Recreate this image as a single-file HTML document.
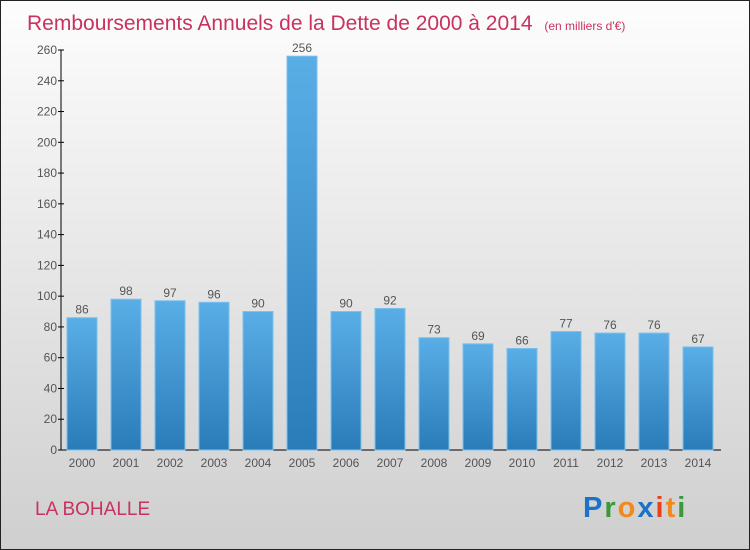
<!DOCTYPE html>
<html><head><meta charset="utf-8"><style>
body{margin:0;}
#wrap{width:748px;height:548px;border:1px solid #222;background:linear-gradient(#fdfdfd,#cfcfcf);position:relative;overflow:hidden;font-family:"Liberation Sans",sans-serif;}
</style></head><body>
<div id="wrap">
<svg id="chart" width="748" height="548" xmlns="http://www.w3.org/2000/svg">
<defs><linearGradient id="bg" x1="0" y1="0" x2="0" y2="1"><stop offset="0" stop-color="#5aaee6"/><stop offset="1" stop-color="#2a7cb9"/></linearGradient></defs>
<text x="26" y="29" font-size="21" fill="#c8325f">Remboursements Annuels de la Dette de 2000 à 2014 <tspan font-size="12" dx="6">(en milliers d'€)</tspan></text>
<text x="34" y="514" font-size="19" fill="#c8325f">LA BOHALLE</text>
<g font-size="29" font-weight="bold" font-family="Liberation Sans, sans-serif">
<text x="582" y="516" letter-spacing="2"><tspan fill="#1a73c8">P</tspan><tspan fill="#3a9a3a">r</tspan><tspan fill="#f08a1c">o</tspan><tspan fill="#1a73c8">x</tspan><tspan fill="#e8401c">i</tspan><tspan fill="#f08a1c">t</tspan><tspan fill="#3a9a3a">i</tspan></text></g>
<g id="axes"></g><g id="bars"></g>
</svg></div>
<script>
const categories=["2000","2001","2002","2003","2004","2005","2006","2007","2008","2009","2010","2011","2012","2013","2014"];
const values=[86,98,97,96,90,256,90,92,73,69,66,77,76,76,67];
const ticks=[0,20,40,60,80,100,120,140,160,180,200,220,240,260];
const NS="http://www.w3.org/2000/svg";
const y0=449,yTop=49,vmax=260,x0=60,pitch=44,first=81,bw=30;
function y(v){return y0-(v/vmax)*(y0-yTop);}
function x(i){return first+i*pitch;}
function mk(t,a,p){const e=document.createElementNS(NS,t);for(const k in a)e.setAttribute(k,a[k]);p.appendChild(e);return e;}
const ax=document.getElementById('axes'),bs=document.getElementById('bars');
const yl=mk('line',{x1:x0,y1:yTop,x2:x0,y2:y0,stroke:'#000'},ax);


const xl=mk('line',{x1:x0,y1:y0,x2:720,y2:y0,stroke:'#000'},ax);


ticks.forEach(t=>{
 mk('line',{x1:x0-3,y1:y(t),x2:x0+3,y2:y(t),stroke:'#000'},ax);
 const tx=mk('text',{x:x0-4,y:y(t)+4,'font-size':12,fill:'#555','text-anchor':'end'},ax);tx.textContent=t;
 
 
});
categories.forEach((c,i)=>{
 const r=mk('rect',{x:x(i)-bw/2,y:y(values[i]),width:bw,height:y0-y(values[i]),fill:'url(#bg)',stroke:'#7cc0ee','stroke-width':1},bs);
 
 
 const v=mk('text',{x:x(i),y:y(values[i])-4,'font-size':12,fill:'#555','text-anchor':'middle'},bs);v.textContent=values[i];
 
 
 const l=mk('text',{x:x(i),y:466,'font-size':12,fill:'#555','text-anchor':'middle'},ax);l.textContent=c;
 
 
});
</script>
</body></html>
